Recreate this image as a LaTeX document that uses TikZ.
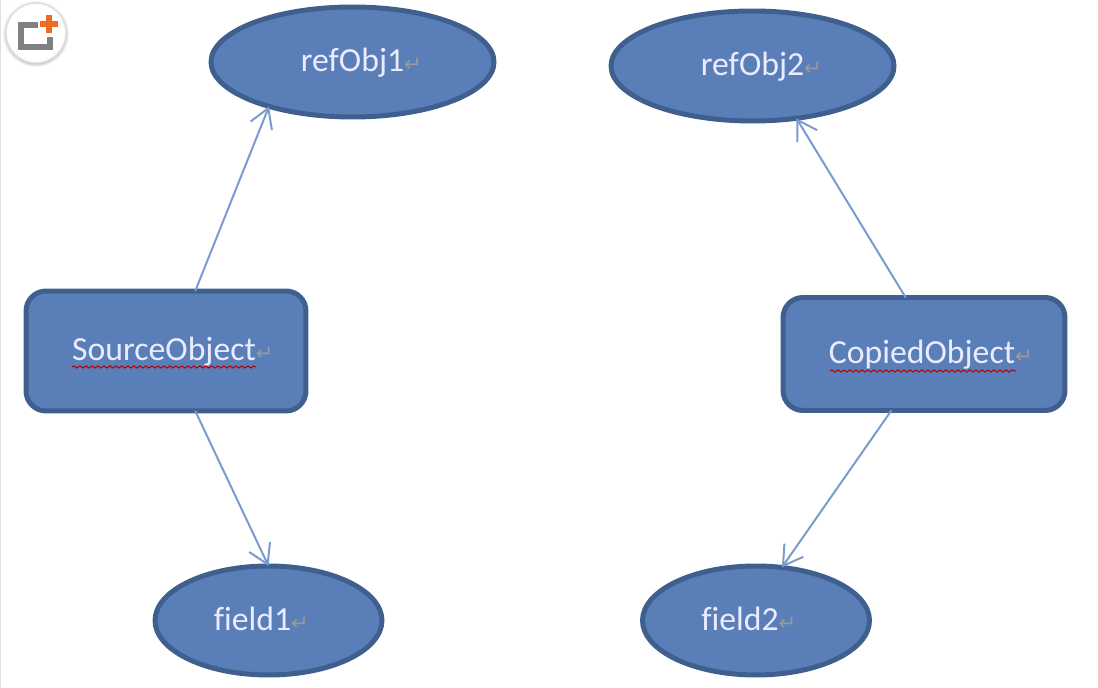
\documentclass[tikz,border=0pt]{standalone}
\usepackage{fontspec}
\setmainfont[Ligatures=NoCommon]{Carlito}
\newfontfamily\markfont{DejaVu Sans}
\usepackage{tikz}
\usetikzlibrary{shapes.geometric}
\usetikzlibrary{decorations.pathmorphing}
\usetikzlibrary{shadows.blur}
\usetikzlibrary{arrows.meta}
\definecolor{objfill}{HTML}{5A7FB8}
\definecolor{objline}{HTML}{3F5F8E}
\definecolor{linkline}{HTML}{7A9BD0}
\definecolor{plusorange}{HTML}{EE6B21}
\newcommand{\retmark}{\rlap{\markfont\fontsize{12pt}{12pt}\selectfont\textcolor{gray!80}{↵}}}
\tikzset{%
  every obj/.style={
    draw=objline,
    fill=objfill,
    line width=0.1cm,
    outer sep=0pt,
    inner sep=0pt,
    text=white!92!blue,
    text height=0.5cm,
    text depth=0.1cm,
    font=\fontsize{19.2pt}{22pt}\selectfont
  },
  obj ellipse/.style={
    every obj,
    ellipse,
    minimum width=5.66cm,
    minimum height=2.2cm
  },
  small ellipse/.style={
    every obj,
    ellipse,
    minimum width=4.54cm,
    minimum height=2.18cm
  },
  obj box/.style={
    every obj,
    rectangle,
    rounded corners=0.4cm
  },
  link/.style={
    draw=linkline,
    line width=0.04cm,
    -{Straight Barb[length=0.38cm,width=0.46cm,line width=0.04cm]}
  },
  squiggle/.style={
    draw=red!70!black,
    line width=0.02cm,
    decorate,
    decoration={snake,amplitude=0.022cm,segment length=0.12cm}
  },
}

\begin{document}
\begin{tikzpicture}[x=0.02cm,y=-0.02cm]
  \useasboundingbox (0,0) rectangle (1098,688);
  % page edge
  \draw[black!12,line width=0.02cm] (0.5,0) -- (0.5,688);
  % corner badge
  \node[circle,draw=black!12,fill=white,line width=0.03cm,minimum size=1.2cm,blur shadow={shadow blur steps=6,shadow xshift=0pt,shadow yshift=-0.02cm}] (badge) at (36,33) {};
  \draw[black!50,line width=0.13cm] (38,25) -- (21,25) -- (21,47) -- (50,47) -- (50,37);
  \draw[plusorange,line width=0.13cm] (49,15) -- (49,33) (40,24) -- (58,24);
  % objects
  \node[obj ellipse] (refObj1) at (352.5,62) {refObj1\retmark};
  \node[obj ellipse] (refObj2) at (752.5,66) {refObj2\retmark};
  \node[obj box,minimum width=5.6cm,minimum height=2.4cm] (SourceObject) at (166,351) {SourceObject\retmark\kern0.08cm};
  \node[obj box,minimum width=5.64cm,minimum height=2.26cm] (CopiedObject) at (924,354) {CopiedObject\retmark\kern0.08cm};
  \node[small ellipse] (field1) at (268.5,620.5) {field1\retmark\kern0.64cm};
  \node[small ellipse] (field2) at (756,620.5) {field2\retmark\kern0.64cm};
  % links
  \draw[link] (SourceObject.64) -- (refObj1.208);
  \draw[link] (SourceObject.-64) -- (field1.90);
  \draw[link] (CopiedObject.108) -- (refObj2.-50);
  \draw[link] (CopiedObject.-120) -- (field2.64);
  % spelling marks
  \coordinate (srcA) at (72,367);
  \coordinate (srcB) at (256,367);
  \coordinate (cpyA) at (830,371);
  \coordinate (cpyB) at (1016,371);
  \draw[squiggle] (srcA) -- (srcB);
  \draw[squiggle] (cpyA) -- (cpyB);
\end{tikzpicture}
\end{document}
